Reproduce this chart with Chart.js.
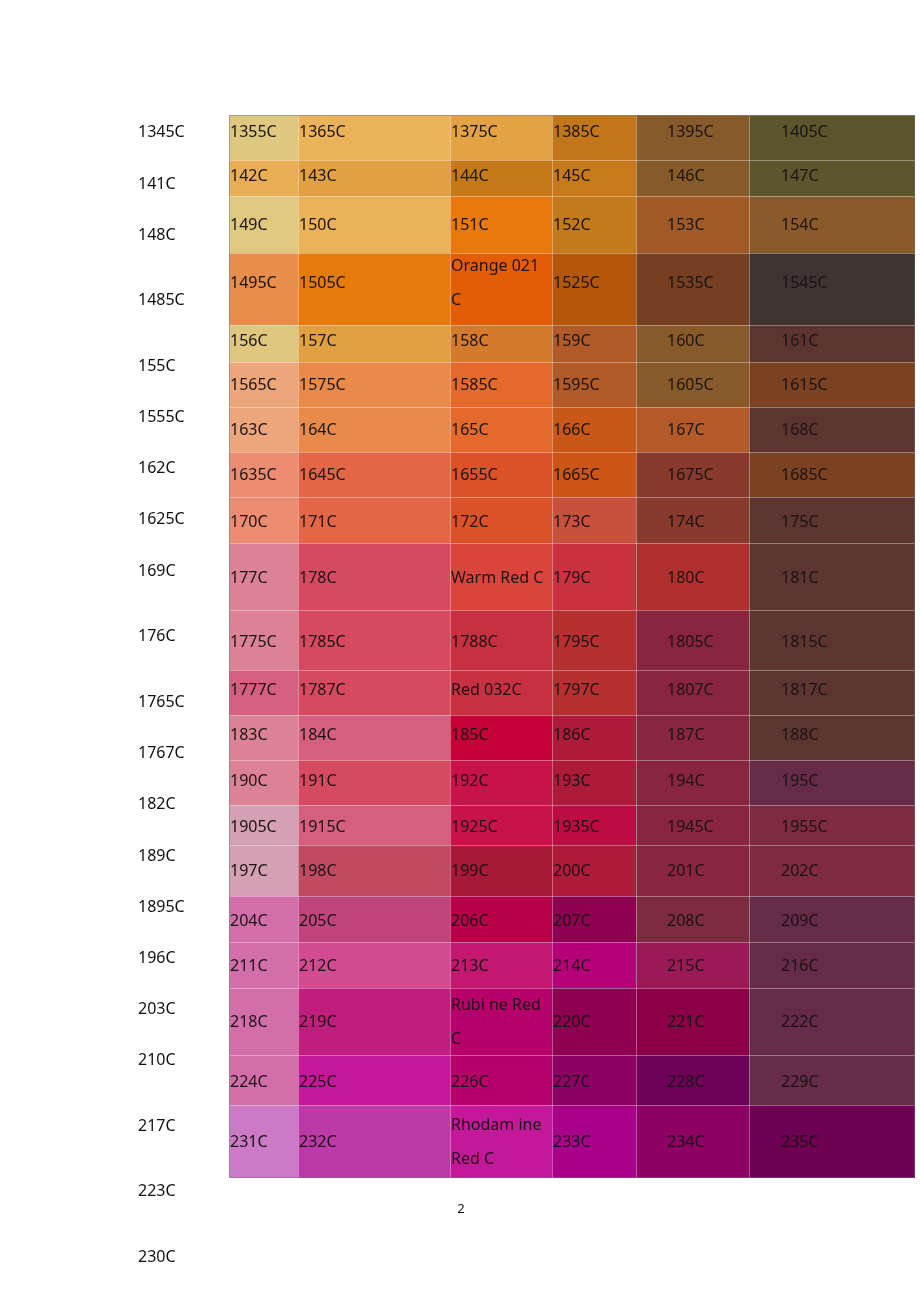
<!DOCTYPE html>
<html>
<head>
<meta charset="utf-8">
<script src="https://cdn.jsdelivr.net/npm/chart.js@4.4.1/dist/chart.umd.min.js"></script>
<style>
  html, body { margin: 0; padding: 0; background: #fff; }
  #wrap { width: 920px; height: 1303px; }
</style>
</head>
<body>
<div id="wrap"><canvas id="pantoneChart" width="920" height="1303"></canvas></div>
<script>
// first column of the swatch list (printed beside the table)
const sideLabels = ['1345C', '141C', '148C', '1485C', '155C', '1555C', '162C', '1625C', '169C', '176C',
  '1765C', '1767C', '182C', '189C', '1895C', '196C', '203C', '210C', '217C', '223C', '230C'];

// swatch names, one array per table column
const names1 = ['1355C', '142C', '149C', '1495C', '156C', '1565C', '163C', '1635C', '170C', '177C', '1775C',
  '1777C', '183C', '190C', '1905C', '197C', '204C', '211C', '218C', '224C', '231C'];
const names2 = ['1365C', '143C', '150C', '1505C', '157C', '1575C', '164C', '1645C', '171C', '178C', '1785C',
  '1787C', '184C', '191C', '1915C', '198C', '205C', '212C', '219C', '225C', '232C'];
const names3 = ['1375C', '144C', '151C', 'Orange 021\nC', '158C', '1585C', '165C', '1655C', '172C', 'Warm Red C', '1788C',
  'Red 032C', '185C', '192C', '1925C', '199C', '206C', '213C', 'Rubi ne Red\nC', '226C', 'Rhodam ine\nRed C'];
const names4 = ['1385C', '145C', '152C', '1525C', '159C', '1595C', '166C', '1665C', '173C', '179C', '1795C',
  '1797C', '186C', '193C', '1935C', '200C', '207C', '214C', '220C', '227C', '233C'];
const names5 = ['1395C', '146C', '153C', '1535C', '160C', '1605C', '167C', '1675C', '174C', '180C', '1805C',
  '1807C', '187C', '194C', '1945C', '201C', '208C', '215C', '221C', '228C', '234C'];
const names6 = ['1405C', '147C', '154C', '1545C', '161C', '1615C', '168C', '1685C', '175C', '181C', '1815C',
  '1817C', '188C', '195C', '1955C', '202C', '209C', '216C', '222C', '229C', '235C'];

// swatch colours, same order
const colors1 = ['#dec87f', '#e9ae54', '#dfc880', '#e88d4a', '#dfc780', '#eda57a', '#eda57a', '#ec8c72', '#ec8c72', '#dc8295', '#dc8295',
  '#d45f7e', '#dc8295', '#dc8295', '#d4a0b4', '#d4a0b4', '#d26eaa', '#d26eaa', '#d26eaa', '#d26eaa', '#cc7ac6'];
const colors2 = ['#eab35a', '#e1a142', '#eab35a', '#e67b0c', '#e1a142', '#e88b4a', '#e88b4a', '#e36747', '#e36747', '#d54a60', '#d54a60',
  '#d54a60', '#d4607e', '#d54a60', '#d4607e', '#c04a62', '#bf447c', '#d24a92', '#c01e7e', '#c4189a', '#bc3aa8'];
const colors3 = ['#e3a243', '#c47a18', '#e8790d', '#e25d06', '#d37a2c', '#e36a2c', '#e36a2c', '#dc5228', '#dc5228', '#da443c', '#c73040',
  '#c73040', '#c50037', '#c8124a', '#c8124a', '#a81838', '#b8004a', '#c2186f', '#b8006a', '#b8006a', '#c4189a'];
const colors4 = ['#c1761a', '#c67a1a', '#c27a1a', '#b65608', '#b15a28', '#b15a28', '#c95818', '#cd5616', '#c9503c', '#c9313e', '#b53030',
  '#b53030', '#ad1a3a', '#ad1a3a', '#bd0b45', '#ad1a3a', '#8e0050', '#b5007a', '#8e0050', '#8e0064', '#a8008a'];
const colors5 = ['#875a2b', '#875a2a', '#a15a25', '#763f20', '#885a2a', '#885a2a', '#b35a28', '#8a3a2c', '#8a3a2c', '#b03030', '#8a2540',
  '#8a2540', '#8a2540', '#8a2540', '#8a2540', '#8a2540', '#7e2b40', '#9a1a58', '#8c0048', '#6e0058', '#8e0064'];
const colors6 = ['#5c542c', '#5d552d', '#8a5a2a', '#3f3431', '#5d3530', '#7a4220', '#5d3530', '#7a4220', '#5d3530', '#5d3530', '#5d3530',
  '#5d3530', '#5d3530', '#652b47', '#7e2b40', '#7e2b40', '#652b47', '#652b47', '#652b47', '#652b47', '#6e0054'];

const pageNumber = '2';

// layout (page units)
const tableLeft = 229, tableTop = 115;
const colWidths = [69, 152, 102, 84, 113, 166];
const rowHeights = [45, 36, 57, 72, 37, 45, 45, 45, 46, 67, 60, 45, 45, 45, 40, 51, 46, 46, 67, 50, 73];
const textInset = [1, 1, 1, 1, 31, 32];
const rowNudge = [-5, -2, 1, -6, -2, 1, 1, 1, 2, 2, 2, -2, -2, -1, 2, 1, 2, 1, 1, 2, 1];
const sideX = 138;
const sideY = [132, 184, 235, 300, 366, 417, 468, 519, 571, 636, 702, 753, 804, 856, 907, 958, 1009, 1060, 1126, 1191, 1257];

const columns = [names1, names2, names3, names4, names5, names6];
const colours = [colors1, colors2, colors3, colors4, colors5, colors6];

// build one point per cell (centre) carrying its extent
const cells = [];
let y0 = tableTop;
rowHeights.forEach((h, r) => {
    let x0 = tableLeft;
    colWidths.forEach((w, c) => {
        cells.push({
            x: x0 + w / 2, y: y0 + h / 2,
            x0: x0, x1: x0 + w, y0: y0, y1: y0 + h,
            tx: x0 + textInset[c], ty: y0 + h / 2 + rowNudge[r],
            label: columns[c][r], color: colours[c][r]
        });
        x0 += w;
    });
    y0 += h;
});

const swatchPlugin = {
    id: 'swatches',
    beforeDatasetsDraw(chart) {
        const ctx = chart.ctx;
        const xs = chart.scales.x, ys = chart.scales.y;
        ctx.save();
        // fills
        cells.forEach(c => {
            const l = xs.getPixelForValue(c.x0), r = xs.getPixelForValue(c.x1);
            const t = ys.getPixelForValue(c.y0), b = ys.getPixelForValue(c.y1);
            ctx.fillStyle = c.color;
            ctx.fillRect(l, t, r - l, b - t);
        });
        // faint grid
        ctx.strokeStyle = 'rgba(255,255,255,0.2)';
        ctx.lineWidth = 1;
        cells.forEach(c => {
            const l = Math.round(xs.getPixelForValue(c.x0)) + 0.5, r = Math.round(xs.getPixelForValue(c.x1)) + 0.5;
            const t = Math.round(ys.getPixelForValue(c.y0)) + 0.5, b = Math.round(ys.getPixelForValue(c.y1)) + 0.5;
            ctx.strokeRect(l, t, r - l, b - t);
        });
        // outer border
        const L = xs.getPixelForValue(tableLeft), T = ys.getPixelForValue(tableTop);
        const R = xs.getPixelForValue(cells[cells.length - 1].x1), B = ys.getPixelForValue(cells[cells.length - 1].y1);
        ctx.strokeStyle = 'rgba(110,110,110,0.5)';
        ctx.strokeRect(Math.round(L) + 0.5, Math.round(T) + 0.5, Math.round(R - L) - 1, Math.round(B - T) - 1);

        // labels
        ctx.font = '16px "Noto Sans", sans-serif';
        ctx.textAlign = 'left';
        ctx.textBaseline = 'middle';
        ctx.fillStyle = '#1c1414';
        cells.forEach(c => {
            const lines = c.label.split('\n');
            const lh = 34;
            const first = ys.getPixelForValue(c.ty) - (lines.length - 1) * lh / 2;
            lines.forEach((s, i) => ctx.fillText(s, xs.getPixelForValue(c.tx), first + i * lh));
        });
        ctx.fillStyle = '#111';
        sideLabels.forEach((s, i) => ctx.fillText(s, xs.getPixelForValue(sideX), ys.getPixelForValue(sideY[i])));
        ctx.font = '13px "Noto Sans", sans-serif';
        ctx.textAlign = 'center';
        ctx.fillText(pageNumber, xs.getPixelForValue(461), ys.getPixelForValue(1209));
        ctx.restore();
    }
};

const ctx = document.getElementById('pantoneChart').getContext('2d');
new Chart(ctx, {
    type: 'scatter',
    data: {
        datasets: [{
            label: 'Pantone',
            data: cells,
            pointRadius: 0,
            pointHoverRadius: 0
        }]
    },
    options: {
        responsive: false,
        animation: false,
        devicePixelRatio: 1,
        layout: { padding: 0 },
        plugins: {
            legend: { display: false },
            tooltip: { enabled: false }
        },
        scales: {
            x: { type: 'linear', min: 0, max: 920, display: false },
            y: { type: 'linear', min: 0, max: 1303, reverse: true, display: false }
        }
    },
    plugins: [swatchPlugin]
});
</script>
</body>
</html>
